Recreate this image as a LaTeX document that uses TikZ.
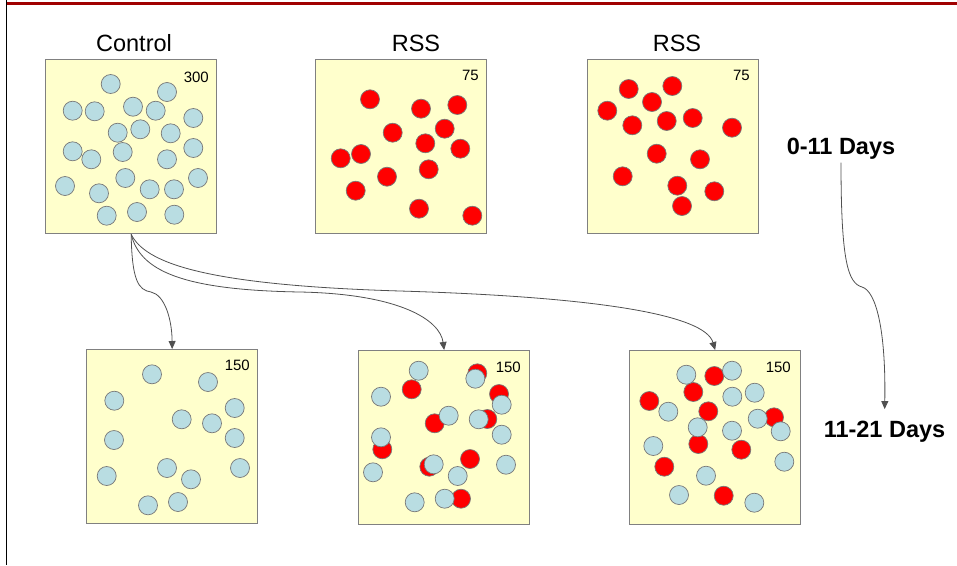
\documentclass[tikz,border=0pt]{standalone}
\usepackage{fontspec}
\setmainfont{Liberation Sans}
\usepackage{tikz}
\usetikzlibrary{arrows.meta}
\definecolor{dishfill}{RGB}{255,255,204}
\definecolor{dishline}{RGB}{128,128,128}
\definecolor{cellblue}{RGB}{185,221,226}
\definecolor{cellred}{RGB}{255,0,0}
\definecolor{rimline}{RGB}{120,120,120}
\definecolor{flowline}{RGB}{80,80,80}
\definecolor{barred}{RGB}{160,0,0}
\tikzset{flow/.style={draw=flowline,line width=0.8pt,
		-{Triangle[length=8pt,width=7pt]}}}
\tikzstyle{dish}=[rectangle,draw=dishline,fill=dishfill,line width=1.3pt,anchor=north west,minimum width=171pt,minimum height=174pt]
\tikzstyle{calm}=[circle,draw=rimline,fill=cellblue,line width=0.7pt,inner sep=0pt,minimum size=19pt]
\tikzstyle{stressed}=[circle,draw=rimline,fill=cellred,line width=0.7pt,inner sep=0pt,minimum size=19pt]
\tikzstyle{count}=[anchor=base east,font=\fontsize{15}{18}\selectfont,inner sep=0pt]
\tikzstyle{heading}=[anchor=base,font=\fontsize{23.5}{28}\selectfont,inner sep=3pt]
\tikzstyle{period}=[anchor=base,font=\bfseries\fontsize{23.5}{28}\selectfont,inner sep=3pt]

\begin{document}
\begin{tikzpicture}[x=1pt,y=-1pt]
	\useasboundingbox (0,0) rectangle (957,565);
	\draw[barred,line width=3pt] (6,3.5) -- (957,3.5);
	\draw[black,line width=1pt] (6.5,0) -- (6.5,565);

	% dishes
	\node[dish] (B1) at (45,59) {};
	\node[dish] (B2) at (315,59) {};
	\node[dish] (B3) at (587,59) {};
	\node[dish] (B4) at (86,349) {};
	\node[dish] (B5) at (358,350) {};
	\node[dish] (B6) at (629,350) {};

	\node[heading] (T1) at (134,51) {Control};
	\node[heading] (T2) at (416,51) {RSS};
	\node[heading] (T3) at (677,51) {RSS};

	\node[count] at (209,82) {300};
	\node[count] at (479,80) {75};
	\node[count] at (750,80) {75};
	\node[count] at (250,370) {150};
	\node[count] at (521,372) {150};
	\node[count] at (791,372) {150};

	% control, 0-11 days
	\foreach \x/\y in {110.7/84,167/92,72.7/110.7,94.7/111.3,133/106.7,155.7/110.7,193.3/118,117.7/132.7,140.3/129.3,170.7/133.3,72.7/151.3,91.3/159.3,122.7/152,167/159.3,193.3/148,65/186,99/193.3,125.3/178,149.7/189.3,174/189.3,198/178,106.7/215.7,137/212,174.3/214.7}
		\node[calm] at (\x,\y) {};
	% RSS, 0-11 days
	\foreach \x/\y in {370/99.3,421/108.7,457.3/105,392.7/132.7,444.7/128.7,425.3/143.3,460.3/148.7,340.7/158.3,361/154,387/176.7,428.7/169.3,355.7/190.7,419/208.7,472.3/215.7}
		\node[stressed] at (\x,\y) {};
	\foreach \x/\y in {628.7/89,672.3/86,652/102,607.3/110.7,632.3/125.3,666.7/121,692.7/118,732/127.7,656.7/153.7,700/159.3,622.7/176.3,677.3/185.7,714.3/191.3,682/206}
		\node[stressed] at (\x,\y) {};

	% 11-21 days
	\foreach \x/\y in {152/374.3,208/382,114.3/400.7,234.7/408,181.7/419.3,212/423.3,114/440,234.7/438,167/468,240/468,106.7/476,191/479.3,148/505.3,178/502}
		\node[calm] at (\x,\y) {};
	\foreach \x/\y in {477.3/373.3,411.7/389.3,499/394,487.3/419,434.7/423.3,382.3/449.3,470/459,429.3/466.7,461/498.7}
		\node[stressed] at (\x,\y) {};
	\foreach \x/\y in {418.7/370.7,475.3/378.7,381/396.7,501.7/404.7,448.7/415.7,478.7/419.3,501.7/434.7,381/437.3,373/472.3,433.7/464.3,457.7/476,506/464.7,414.7/502.3,444.7/498.7}
		\node[calm] at (\x,\y) {};
	\foreach \x/\y in {714.3/376,693.3/392,649.3/401,708.3/411.3,774/417.3,698.3/444,741.3/449.7,664.3/466.7,723.7/495.7}
		\node[stressed] at (\x,\y) {};
	\foreach \x/\y in {686.3/374.7,732/370.7,732.3/396.7,754.7/392.7,668.3/411.7,757.7/418.7,780.7/431.3,697.7/427.3,732/430.7,653.3/446,784.3/461.7,706/475.7,679/495,754.3/502.7}
		\node[calm] at (\x,\y) {};

	% transfers
	\draw[flow] (B1.south) .. controls (132,280) and (138,290) .. (151,292)
		.. controls (165,295) and (172,320) .. (B4.north);
	\draw[flow] (B1.south) .. controls (140,270) and (180,290) .. (300,292)
		.. controls (400,294) and (440,320) .. (B5.north);
	\draw[flow] (B1.south) .. controls (145,262) and (200,285) .. (400,291)
		.. controls (600,297) and (705,315) .. (B6.north);

	\node[period] (D1) at (841,154.5) {0-11 Days};
	\node[period] (D2) at (884.5,437.7) {11-21 Days};
	\draw[flow,shorten >=9pt] (D1.south) .. controls (841,262) and (848,283) .. (862,287)
		.. controls (876,291) and (886,330) .. (D2.north);
\end{tikzpicture}
\end{document}
